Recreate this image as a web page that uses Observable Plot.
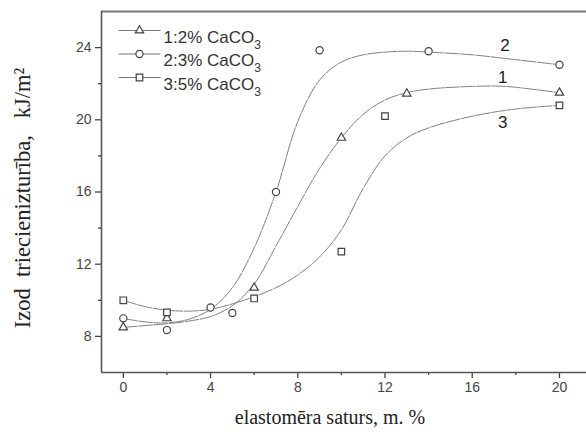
<!DOCTYPE html>
<html>
<head>
<meta charset="utf-8">
<script src="https://cdn.jsdelivr.net/npm/d3@7"></script>
<script src="https://cdn.jsdelivr.net/npm/@observablehq/plot@0.6"></script>
<style>
  body { margin: 0; background: #fff; }
  #chart svg { display: block; }
  #chart text { white-space: pre; }
</style>
</head>
<body>
<div id="chart"></div>
<script>
// Measured Izod impact strength vs. elastomer content, three CaCO3 loadings
const conc1 = [0, 2, 6, 10, 13, 20];
const izod1 = [8.5, 9.0, 10.7, 19.0, 21.45, 21.5];
const conc2 = [0, 2, 4, 5, 7, 9, 14, 20];
const izod2 = [9.0, 8.35, 9.6, 9.3, 16.0, 23.85, 23.8, 23.05];
const conc3 = [0, 2, 6, 10, 12, 20];
const izod3 = [10.0, 9.33, 10.1, 12.7, 20.2, 20.8];

// Fitted trend curves, sampled along each line
const fitX1 = [0, 1, 2, 3, 4, 5, 6, 7, 8, 9, 10, 11, 12, 13, 14, 16, 17.5, 20];
const fitY1 = [8.5, 8.6, 8.7, 8.85, 9.1, 9.7, 10.9, 13.0, 15.2, 17.3, 19.0, 20.3, 21.1, 21.5, 21.7, 21.85, 21.85, 21.5];
const fitX2 = [0, 1, 2, 3, 4, 5, 6, 7, 8, 9, 10, 11, 12, 13, 14, 16, 17.5, 20];
const fitY2 = [9.0, 8.8, 8.75, 8.95, 9.5, 10.7, 12.9, 16.0, 19.9, 22.2, 23.2, 23.6, 23.75, 23.8, 23.75, 23.6, 23.4, 23.05];
const fitX3 = [0, 1, 2, 3, 4, 5, 6, 7, 8, 9, 10, 11, 12, 13, 14, 16, 18, 20];
const fitY3 = [10.0, 9.65, 9.45, 9.4, 9.5, 9.8, 10.2, 10.7, 11.4, 12.4, 13.9, 16.2, 18.0, 19.0, 19.55, 20.2, 20.6, 20.8];

const seriesLabels = ["1:2% CaCO3", "2:3% CaCO3", "3:5% CaCO3"];
const seriesSymbols = ["triangle", "circle", "square"];
const seriesRadius = [3.1, 3.6, 3.7];

// Curve numbers written next to the lines
const curveTags = ["1", "2", "3"];
const curveTagX = [17.4, 17.5, 17.4];
const curveTagY = [22.35, 24.1, 19.85];

// Axis ticks
const xMajor = [0, 4, 8, 12, 16, 20];
const xMinor = [2, 6, 10, 14, 18];
const yMajor = [8, 12, 16, 20, 24];
const yMinor = [10, 14, 18, 22];

const xTitle = "elastomēra saturs, m. %";
const yTitle = "Izod  triecienizturība,   kJ/m²";

const measured = [[conc1, izod1], [conc2, izod2], [conc3, izod3]];
const fitted = [[fitX1, fitY1], [fitX2, fitY2], [fitX3, fitY3]];

const points = measured.flatMap(([xs, ys], s) => xs.map((x, i) => ({x, y: ys[i], s})));
const curves = fitted.flatMap(([xs, ys], s) => xs.map((x, i) => ({x, y: ys[i], s})));
const tags = curveTags.map((t, i) => ({t, x: curveTagX[i], y: curveTagY[i]}));

const sans = "Liberation Sans, Arial, sans-serif";
const serif = "Liberation Serif, Times New Roman, serif";
const ink = "#444";

// Short horizontal stroke used as the legend line sample
const legendStroke = {draw(ctx) { ctx.moveTo(-21, 0); ctx.lineTo(21, 0); }};

const legendMarks = seriesLabels.flatMap((label, i) => {
  const dy = 19 + i * 23.5;
  return [
    Plot.dot([label], {frameAnchor: "top-left", dx: 38, dy, symbol: legendStroke, stroke: "#777", strokeWidth: 1.2, fill: "none"}),
    Plot.dot([label], {frameAnchor: "top-left", dx: 38, dy, symbol: seriesSymbols[i], r: seriesRadius[i], stroke: ink, strokeWidth: 1.2, fill: "white"}),
    Plot.text([label], {frameAnchor: "top-left", dx: 62, dy, text: d => d, textAnchor: "start", fontFamily: sans, fontSize: 17, fill: "#333"})
  ];
});

const chart = Plot.plot({
  width: 586,
  height: 437,
  marginLeft: 101,
  marginTop: 11,
  marginRight: 0,
  marginBottom: 65,
  style: {background: "white", overflow: "visible"},
  x: {domain: [-1, 21.24], label: null},
  y: {domain: [6, 26], label: null},
  marks: [
    Plot.axisX(xMajor, {anchor: "bottom", tickSize: 6, tickPadding: 4, fontSize: 14, fontFamily: sans, stroke: ink, fill: ink, strokeWidth: 1.3, label: null}),
    Plot.axisX(xMinor, {anchor: "bottom", tickSize: 3, text: null, stroke: ink, strokeWidth: 1.3, label: null}),
    Plot.axisY(yMajor, {anchor: "left", tickSize: 6, tickPadding: 4, fontSize: 14, fontFamily: sans, stroke: ink, fill: ink, strokeWidth: 1.3, label: null}),
    Plot.axisY(yMinor, {anchor: "left", tickSize: 3, text: null, stroke: ink, strokeWidth: 1.3, label: null}),
    Plot.ruleY([26], {stroke: "#777", strokeWidth: 2.2}),
    Plot.ruleY([6], {stroke: "#555", strokeWidth: 1.6}),
    Plot.ruleX([-1], {stroke: "#555", strokeWidth: 1.6}),
    Plot.line(curves, {x: "x", y: "y", z: "s", curve: "catmull-rom", stroke: "#808080", strokeWidth: 1, strokeDasharray: "14,1.5"}),
    ...seriesSymbols.map((sym, s) =>
      Plot.dot(points.filter(d => d.s === s), {x: "x", y: "y", symbol: () => sym, r: seriesRadius[s], stroke: ink, strokeWidth: 1.2, fill: "white"})
    ),
    Plot.text(tags, {x: "x", y: "y", text: "t", fontFamily: sans, fontSize: 17, fill: "#222"}),
    ...legendMarks,
    Plot.text([xTitle], {frameAnchor: "bottom", dx: -14, dy: 51, fontFamily: serif, fontSize: 20, fill: "#222"}),
    Plot.text([yTitle], {frameAnchor: "left", textAnchor: "middle", rotate: -90, dx: -79, dy: 6, fontFamily: serif, fontSize: 22.5, fill: "#222"})
  ]
});

// Subscript the 3 in CaCO3
d3.select(chart).selectAll("text").each(function () {
  const t = this.textContent;
  if (/CaCO3$/.test(t) && this.childElementCount === 0) {
    this.textContent = t.slice(0, -1);
    d3.select(this).append("tspan").attr("dy", 6).attr("font-size", 12).text("3");
  }
});

document.getElementById("chart").append(chart);
</script>
</body>
</html>
